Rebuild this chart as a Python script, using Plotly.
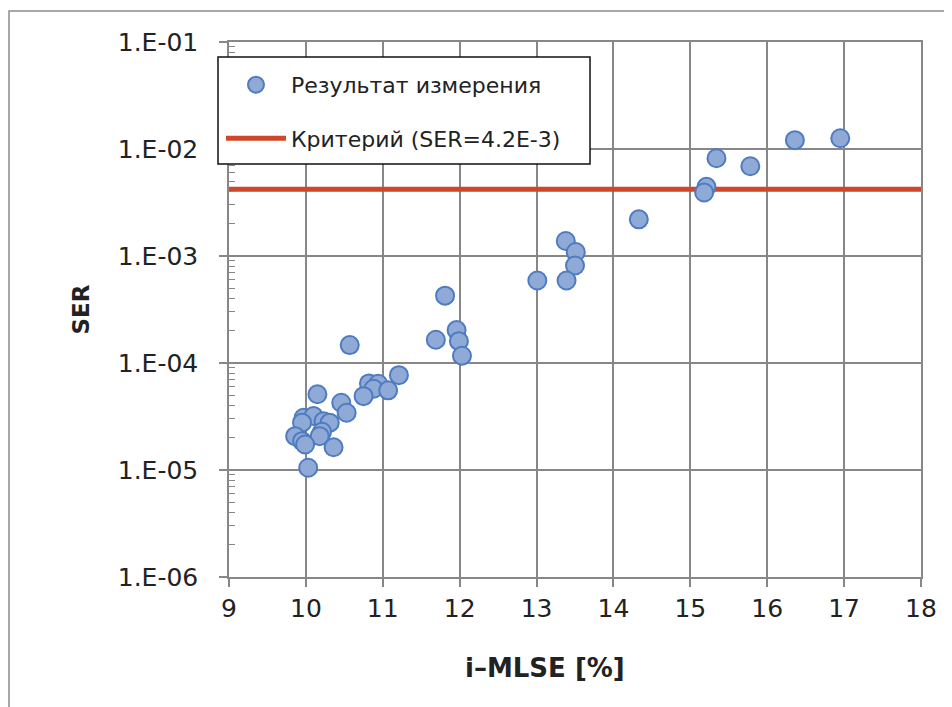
import plotly.graph_objects as go

# Measured points: i-MLSE [%] and SER
mlse = [10.15, 10.46, 10.53, 9.97, 10.10, 10.23, 10.31, 9.95, 9.86, 9.95,
        10.21, 10.18, 10.36, 10.03, 9.99,
        10.57, 11.21, 10.82, 10.94, 10.88, 11.07, 10.75,
        11.81, 11.69, 11.96, 11.99, 12.03,
        13.38, 13.51, 13.50, 13.39, 13.01,
        14.33, 15.21, 15.18, 15.34, 15.78, 16.36, 16.95]
ser = [5.1e-5, 4.25e-5, 3.43e-5, 3.08e-5, 3.19e-5, 2.86e-5, 2.77e-5, 2.77e-5, 2.07e-5, 1.86e-5,
       2.28e-5, 2.07e-5, 1.63e-5, 1.05e-5, 1.73e-5,
       1.47e-4, 7.7e-5, 6.45e-5, 6.4e-5, 5.75e-5, 5.55e-5, 4.9e-5,
       4.26e-4, 1.65e-4, 2.03e-4, 1.6e-4, 1.17e-4,
       1.38e-3, 1.09e-3, 8.15e-4, 5.9e-4, 5.9e-4,
       2.2e-3, 4.43e-3, 3.92e-3, 8.2e-3, 6.9e-3, 1.21e-2, 1.26e-2]

crit_x = [9, 18]
crit_ser = [4.2e-3, 4.2e-3]

y_tickvals = [1e-6, 1e-5, 1e-4, 1e-3, 1e-2, 1e-1]
y_ticktext = ["1.E-06", "1.E-05", "1.E-04", "1.E-03", "1.E-02", "1.E-01"]
x_tickvals = [9, 10, 11, 12, 13, 14, 15, 16, 17, 18]

name_meas = "Результат измерения"
name_crit = "Критерий (SER=4.2E-3)"

minor_vals = [m * 10.0 ** e for e in range(-6, -1) for m in range(2, 10)]

FONT = "DejaVu Sans"
GRID = "#878787"
TXT = "#222222"

fig = go.Figure()
fig.add_trace(go.Scatter(
    x=crit_x, y=crit_ser, mode="lines", name=name_crit,
    line=dict(color="#D0462B", width=5), legendrank=2, legendgroup="b",
    cliponaxis=False,
))
fig.add_trace(go.Scatter(
    x=mlse, y=ser, mode="markers", name=name_meas,
    marker=dict(size=18, color="#8FAAD6", line=dict(color="#4F7BC0", width=2)),
    legendrank=1, legendgroup="a",
))

fig.update_layout(
    width=952, height=707,
    margin=dict(l=221, r=39, t=34, b=138),
    paper_bgcolor="white", plot_bgcolor="white",
    font=dict(family=FONT, size=25, color=TXT),
    showlegend=True,
    legend=dict(
        x=-0.0116, y=0.959, xanchor="left", yanchor="top",
        bgcolor="rgba(0,0,0,0)", borderwidth=0,
        font=dict(family=FONT, size=22, color=TXT),
        traceorder="grouped", tracegroupgap=22, itemwidth=60,
    ),
    xaxis=dict(
        range=[9, 18], tickvals=x_tickvals,
        showgrid=True, gridcolor=GRID, gridwidth=1.5,
        showline=True, linecolor=GRID, linewidth=1.5, mirror=True,
        ticks="outside", ticklen=8, tickcolor=GRID, tickwidth=1.5,
        zeroline=False,
    ),
    yaxis=dict(
        type="log", range=[-6, -1],
        tickvals=y_tickvals, ticktext=y_ticktext,
        showgrid=True, gridcolor=GRID, gridwidth=1.5,
        showline=True, linecolor=GRID, linewidth=1.5, mirror=True,
        ticks="outside", ticklen=8, tickcolor=GRID, tickwidth=1.5,
        ticklabelstandoff=16,
        minor=dict(tickvals=minor_vals, ticks="inside", ticklen=6,
                   tickcolor=GRID, tickwidth=1, showgrid=False),
        zeroline=False,
    ),
    annotations=[
        dict(text="<b>SER</b>", xref="paper", yref="paper", x=-0.2153, y=0.5,
             xanchor="center", yanchor="middle",
             textangle=-90, showarrow=False, font=dict(family=FONT, size=23, color=TXT)),
        dict(text="<b>i–MLSE [%]</b>", xref="paper", yref="paper", x=0.4566, y=-0.17,
             xanchor="center", yanchor="middle",
             showarrow=False, font=dict(family=FONT, size=26, color=TXT)),
    ],
    shapes=[
        # outer chart frame
        dict(type="rect", xref="paper", yref="paper",
             x0=-0.3179, x1=1.0347, y0=-0.26, y1=1.058,
             line=dict(color="#8C8C8C", width=1.5), fillcolor="rgba(0,0,0,0)", layer="below"),
        # legend box
        dict(type="rect", xref="paper", yref="paper",
             x0=-0.0159, x1=0.5217, y0=0.772, y1=0.972,
             line=dict(color="#111111", width=1.5), fillcolor="white", layer="above"),
    ],
)

fig.write_html("out.html")
